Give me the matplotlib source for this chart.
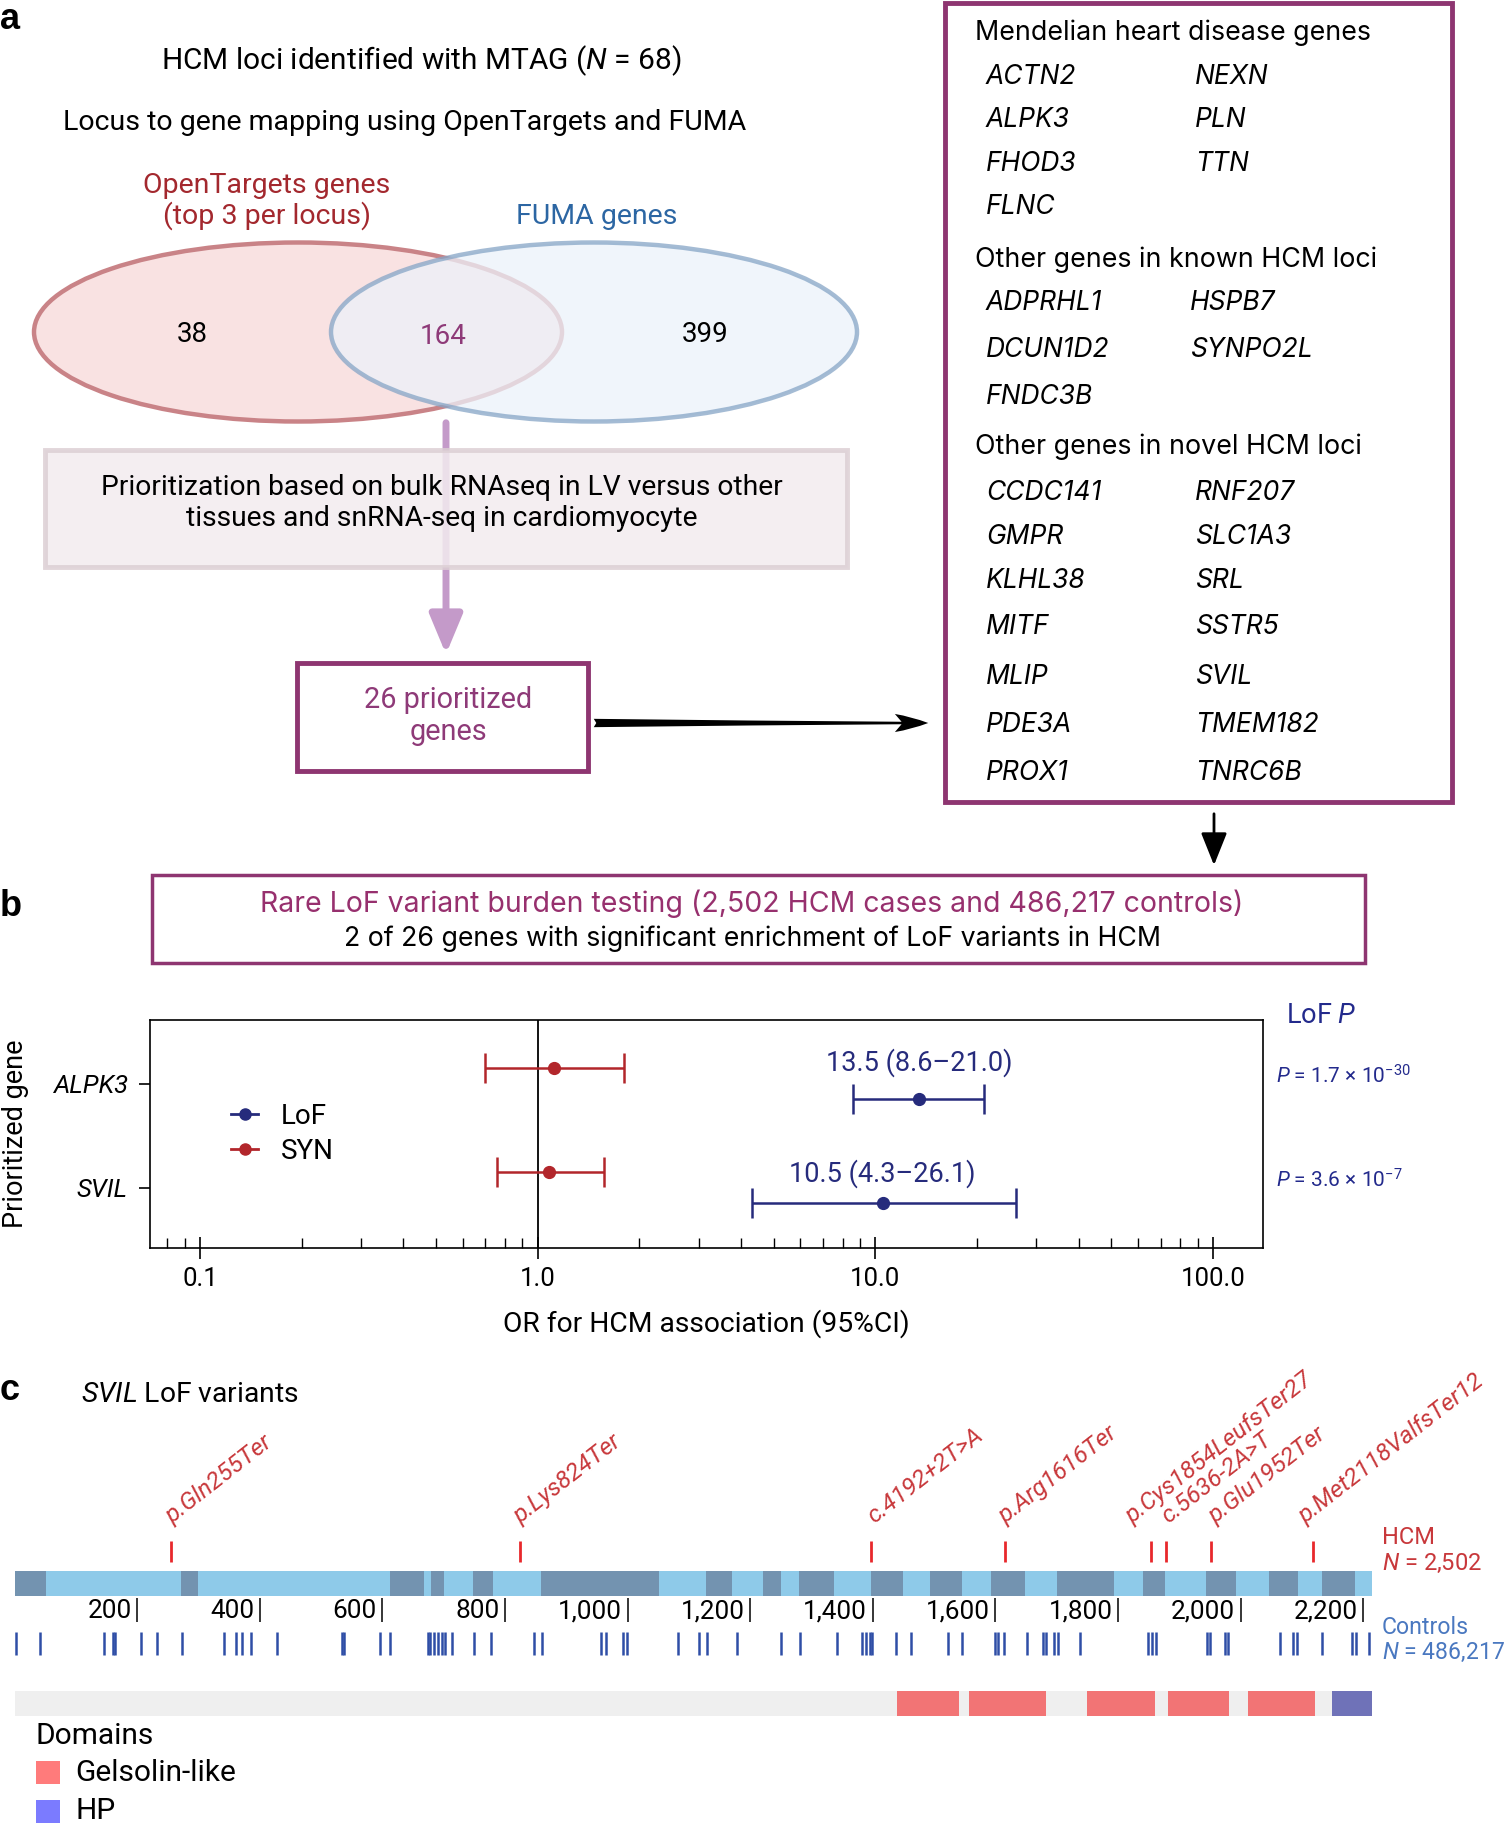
import matplotlib
matplotlib.use('Agg')
import matplotlib.pyplot as plt
from matplotlib.patches import Ellipse, Rectangle, FancyArrowPatch
from matplotlib.lines import Line2D
from matplotlib.transforms import blended_transform_factory

plt.rcParams['font.family'] = ['Roboto', 'DejaVu Sans']
plt.rcParams['mathtext.fontset'] = 'custom'
plt.rcParams['mathtext.rm'] = 'Roboto'
plt.rcParams['mathtext.it'] = 'Roboto:italic'
WIDE = ['Inter', 'DejaVu Sans']
BOLD = ['Liberation Sans', 'DejaVu Sans']

##### DATA #####
# panel a
venn_counts = [38, 164, 399]          # OpenTargets only, shared, FUMA only
mendelian_genes = ['ACTN2', 'ALPK3', 'FHOD3', 'FLNC', 'NEXN', 'PLN', 'TTN']
known_genes = ['ADPRHL1', 'DCUN1D2', 'FNDC3B', 'HSPB7', 'SYNPO2L']
novel_genes = ['CCDC141', 'GMPR', 'KLHL38', 'MITF', 'MLIP', 'PDE3A', 'PROX1',
               'RNF207', 'SLC1A3', 'SRL', 'SSTR5', 'SVIL', 'TMEM182', 'TNRC6B']

# panel b
burden_genes = ['ALPK3', 'SVIL']
lof_or = [13.5, 10.5]
lof_lo = [8.6, 4.3]
lof_hi = [21.0, 26.1]
syn_or = [1.12, 1.08]
syn_lo = [0.70, 0.76]
syn_hi = [1.80, 1.57]
lof_p_mant = ['1.7', '3.6']
lof_p_exp = ['-30', '-7']
or_ticks = [0.1, 1.0, 10.0, 100.0]

# panel c (amino-acid positions in SVIL)
svil_len = 2214
exons_dark = [(0, 52), (272, 300), (613, 668), (679, 700), (748, 780), (859, 1051),
              (1128, 1171), (1221, 1250), (1280, 1337), (1398, 1449), (1493, 1545),
              (1593, 1649), (1701, 1793), (1841, 1877), (1944, 1993), (2046, 2093),
              (2133, 2186)]
hcm_pos = [255, 824, 1398, 1616, 1854, 1879, 1952, 2118]
hcm_labels = ['p.Gln255Ter', 'p.Lys824Ter', 'c.4192+2T>A', 'p.Arg1616Ter',
              'p.Cys1854LeufsTer27', 'c.5636-2A>T', 'p.Glu1952Ter', 'p.Met2118ValfsTer12']
ctrl_pos = [2, 41, 146, 160, 164, 206, 233, 274, 342, 361, 371, 385, 429, 534, 538,
            596, 613, 674, 678, 684, 691, 697, 702, 714, 750, 778, 847, 860, 957, 965,
            993, 999, 1082, 1117, 1130, 1178, 1250, 1281, 1342, 1383, 1389, 1395, 1399,
            1438, 1463, 1523, 1546, 1599, 1604, 1614, 1652, 1678, 1683, 1695, 1702,
            1738, 1849, 1855, 1862, 1946, 1951, 1974, 1980, 2064, 2086, 2092, 2133,
            2182, 2189, 2210]
gelsolin_dom = [(1440, 1541), (1557, 1682), (1750, 1861), (1881, 1982), (2013, 2121)]
hp_dom = [(2149, 2214)]
aa_ticks = list(range(200, 2201, 200))

W, H = 1505, 1823
PURPLE = '#8e3571'
NAVY = '#262b7c'
SYNRED = '#b2262b'
VARRED = '#c8383b'

fig = plt.figure(figsize=(W / 100, H / 100), dpi=100)

# overlay axes in pixel units for the diagram part
ax = fig.add_axes([0, 0, 1, 1])
ax.set_xlim(0, W)
ax.set_ylim(H, 0)
ax.axis('off')

# ---- panel a ----
ax.text(0, 2, 'a', fontsize=26, fontweight='bold', va='top', ha='left', family=BOLD)
ax.text(421, 61, r'HCM loci identified with MTAG ($\mathit{N}$ = 68)', fontsize=21.5, ha='center', va='center')
ax.text(405, 123, 'Locus to gene mapping using OpenTargets and FUMA', fontsize=20.5, ha='center', va='center')
ax.text(267, 201, 'OpenTargets genes\n(top 3 per locus)', fontsize=20.5, ha='center', va='center',
        color='#a3282e', linespacing=1.1)
ax.text(597, 217, 'FUMA genes', fontsize=20.5, ha='center', va='center', color='#2c66a3')

ax.add_patch(Ellipse((298, 332), 528, 179, facecolor='#f9e2e2', edgecolor='#c98387', lw=3.2, zorder=2))
ax.add_patch(Ellipse((594, 332), 526, 179, facecolor='#ecf2fa', edgecolor='#86a5c6', lw=3.2,
                     alpha=0.75, zorder=3))
ax.text(192, 334, str(venn_counts[0]), fontsize=20, ha='center', va='center', zorder=5)
ax.text(443, 337, str(venn_counts[1]), fontsize=20, ha='center', va='center', color='#8e3a78', zorder=5)
ax.text(705, 334, str(venn_counts[2]), fontsize=20, ha='center', va='center', zorder=5)

ax.add_patch(FancyArrowPatch((446, 420), (446, 657), arrowstyle='-|>,head_length=1.2,head_width=0.5',
                             mutation_scale=20, lw=5, color='#c49ac9', zorder=4))
ax.add_patch(Rectangle((45, 450), 802, 117, facecolor='#f3ecef', edgecolor='#dccfd4', lw=3.5,
                       alpha=0.85, zorder=5))
ax.text(442, 503, 'Prioritization based on bulk RNAseq in LV versus other\ntissues and snRNA-seq in cardiomyocyte',
        fontsize=20.3, ha='center', va='center', linespacing=1.15, zorder=6)

ax.add_patch(Rectangle((297, 663), 291, 108, facecolor='white', edgecolor=PURPLE, lw=3.5, zorder=5))
ax.text(448, 716, '26 prioritized\ngenes', fontsize=20.8, ha='center', va='center', color='#8e3a78',
        linespacing=1.15, zorder=6)
ax.add_patch(FancyArrowPatch((591, 723), (931, 723), arrowstyle='fancy,head_length=1.2,head_width=0.65,tail_width=0.3',
                             mutation_scale=20, lw=0, color='black', zorder=6))

# gene list box
ax.add_patch(Rectangle((945, 3), 507, 799, facecolor='white', edgecolor=PURPLE, lw=3.5, zorder=5))
groups = [('Mendelian heart disease genes', 33, mendelian_genes, [77, 120, 164, 207], 1195),
          ('Other genes in known HCM loci', 260, known_genes, [303, 350, 397], 1190),
          ('Other genes in novel HCM loci', 447, novel_genes, [493, 537, 581, 627, 677, 725, 773], 1195)]
for title, ty, genes, rows, col2 in groups:
    ax.text(975, ty, title, fontsize=19.3, family=WIDE, va='center', ha='left', zorder=6)
    n1 = (len(genes) + 1) // 2
    for i, g in enumerate(genes):
        x = 986 if i < n1 else col2
        y = rows[i if i < n1 else i - n1]
        ax.text(x, y, g, fontsize=19, family=WIDE, style='italic', va='center', ha='left', zorder=6)

ax.add_patch(FancyArrowPatch((1214, 811), (1214, 868), arrowstyle='-|>,head_length=1.0,head_width=0.4',
                             mutation_scale=20, lw=2, color='black', zorder=6))

# ---- panel b ----
ax.text(0, 907, 'b', fontsize=26, fontweight='bold', va='center', ha='left', family=BOLD)
ax.add_patch(Rectangle((152, 875), 1213, 88, facecolor='none', edgecolor=PURPLE, lw=2.5, zorder=5))
ax.text(752, 904, 'Rare LoF variant burden testing (2,502 HCM cases and 486,217 controls)',
        fontsize=20.5, family=WIDE, color='#97306e', ha='center', va='center')
ax.text(752, 939, '2 of 26 genes with significant enrichment of LoF variants in HCM',
        fontsize=19.2, family=WIDE, ha='center', va='center')

axb = fig.add_axes([150 / W, 1 - 1248 / H, 1113 / W, 228 / H])
axb.set_xscale('log')
ypos = [1, 0]
off = 0.15
for yg, o, lo, hi in zip(ypos, syn_or, syn_lo, syn_hi):
    axb.errorbar(o, yg + off, xerr=[[o - lo], [hi - o]], fmt='o', color=SYNRED, ms=8.5, lw=1.8,
                 capsize=11, capthick=1.8)
for yg, o, lo, hi in zip(ypos, lof_or, lof_lo, lof_hi):
    axb.errorbar(o, yg - off, xerr=[[o - lo], [hi - o]], fmt='o', color=NAVY, ms=8.5, lw=1.8,
                 capsize=11, capthick=1.8)
    axb.text(o, yg - off + (0.35 if yg == 1 else 0.28), f'{o:.1f} ({lo:.1f}\u2013{hi:.1f})',
             color=NAVY, fontsize=19.5, ha='center', va='center')
axb.axvline(1.0, color='black', lw=1.3, zorder=0)
axb.set_xlim(0.0711, 140.6)
axb.set_ylim(-0.58, 1.61)
axb.set_yticks(ypos)
axb.set_yticklabels(burden_genes, style='italic', fontsize=18.5)
axb.set_xticks(or_ticks)
axb.set_xticklabels([f'{t:.1f}' for t in or_ticks], fontsize=18.5)
axb.tick_params(axis='x', which='major', direction='inout', length=16, width=1.2, pad=6)
axb.tick_params(axis='x', which='minor', direction='in', length=7, width=1.0)
axb.tick_params(axis='y', direction='out', length=8, width=1.2, pad=8)
for s in axb.spines.values():
    s.set_linewidth(1.2)
axb.set_xlabel('OR for HCM association (95%CI)', fontsize=20.3, labelpad=13)
handles = [Line2D([0], [0], color=NAVY, marker='o', ms=8, lw=2),
           Line2D([0], [0], color=SYNRED, marker='o', ms=8, lw=2)]
axb.legend(handles, ['LoF', 'SYN'], loc='center left', bbox_to_anchor=(0.05, 0.5), frameon=False,
           fontsize=20, handlelength=1.0, handletextpad=0.8, labelspacing=0.3)

tr = blended_transform_factory(axb.transAxes, axb.transData)
axb.text(1.021, 1.65, r'LoF $\mathit{P}$', transform=tr, fontsize=19.5, color='#232a8c',
         va='center', ha='left')
for yg, m, e in zip(ypos, lof_p_mant, lof_p_exp):
    axb.text(1.0115, yg + 0.07, r'$\mathit{P}$ = ' + m + r' $\times$ 10$^{' + e + '}$', transform=tr,
             fontsize=15, color='#232a8c', va='center', ha='left')
fig.text(16 / W, 1 - 1134 / H, 'Prioritized gene', rotation=90, fontsize=19.5, ha='center', va='center')

# ---- panel c ----
ax.text(0, 1390, 'c', fontsize=26, fontweight='bold', va='center', ha='left', family=BOLD)
ax.text(81, 1395, r'$\mathit{SVIL}$ LoF variants', fontsize=20.3, va='center', ha='left')

x0, pxaa = 14.5, 0.613  # pixel of aa 0 and pixels per residue
axc = fig.add_axes([0, 0, 1, 1])
axc.patch.set_visible(False)
axc.set_xlim(-x0 / pxaa, (W - x0) / pxaa)
axc.set_ylim(H, 0)
axc.axis('off')

axc.broken_barh([(0, svil_len)], (1571, 25), facecolors='#8ecae9')
axc.broken_barh([(a, b - a) for a, b in exons_dark], (1571, 25), facecolors='#7393b0')
axc.vlines(hcm_pos, 1541, 1562, color='#e8282c', lw=2)
label_shift = [2, 1, 3, 0, -19, 2, 4, -7]
for p, lab, sh in zip(hcm_pos, hcm_labels, label_shift):
    axc.text(p + sh / pxaa, 1524, lab, rotation=38, rotation_mode='anchor', ha='left', va='baseline',
             fontsize=17.5, style='italic', color=VARRED)
axc.vlines(aa_ticks, 1598, 1622, color='black', lw=1.1)
for t in aa_ticks:
    axc.text(t - 9, 1611, f'{t:,}', fontsize=18.8, ha='right', va='center')
axc.vlines(ctrl_pos, 1632, 1655, color='#2f4ea6', lw=1.8)
axc.broken_barh([(0, svil_len)], (1691, 25), facecolors='#efefef')
axc.broken_barh([(a, b - a) for a, b in gelsolin_dom], (1691, 25), facecolors='#f27475')
axc.broken_barh([(a, b - a) for a, b in hp_dom], (1691, 25), facecolors='#6f72b8')

ax.text(1382, 1538, 'HCM', fontsize=17, color=VARRED, va='center', ha='left')
ax.text(1382, 1563, r'$\mathit{N}$ = 2,502', fontsize=17, color=VARRED, va='center', ha='left')
ax.text(1382, 1627, 'Controls', fontsize=16.6, color='#4a78c0', va='center', ha='left')
ax.text(1382, 1652, r'$\mathit{N}$ = 486,217', fontsize=16.6, color='#4a78c0', va='center', ha='left')

ax.text(35, 1736, 'Domains', fontsize=21.5, va='center', ha='left')
ax.add_patch(Rectangle((36, 1761), 24, 23, facecolor='#ff7b7b', lw=0))
ax.text(75, 1773, 'Gelsolin-like', fontsize=21.5, va='center', ha='left')
ax.add_patch(Rectangle((36, 1800), 24, 23, facecolor='#7b7bff', lw=0))
ax.text(75, 1811, 'HP', fontsize=21.5, va='center', ha='left')

fig.savefig('out.png', dpi=100)
